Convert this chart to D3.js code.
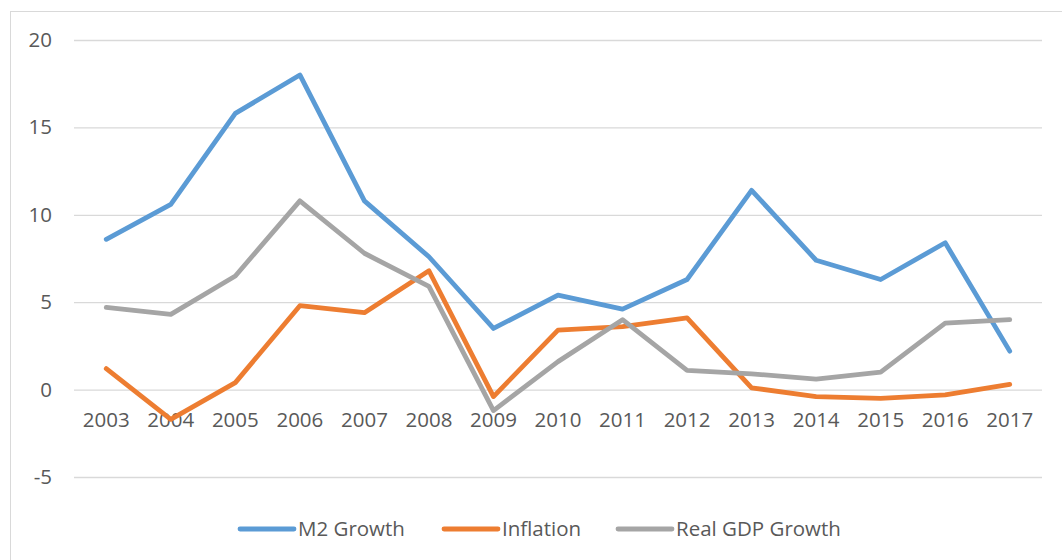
<!DOCTYPE html>
<html>
<head>
<meta charset="utf-8">
<script src="https://cdn.jsdelivr.net/npm/d3@7"></script>
<style>
  html, body { margin: 0; padding: 0; background: #fff; }
  svg { display: block; font-family: "Open Sans", sans-serif; }
</style>
</head>
<body>
<svg id="chart" width="1062" height="560"></svg>
<script>
// Annual figures, 2003–2017 (percent)
const years = ["2003","2004","2005","2006","2007","2008","2009","2010","2011","2012","2013","2014","2015","2016","2017"];
const m2Growth  = [8.6, 10.6, 15.8, 18.0, 10.8, 7.6, 3.5, 5.4, 4.6, 6.3, 11.4, 7.4, 6.3, 8.4, 2.2];
const inflation = [1.2, -1.7, 0.4, 4.8, 4.4, 6.8, -0.4, 3.4, 3.6, 4.1, 0.1, -0.4, -0.5, -0.3, 0.3];
const realGdp   = [4.7, 4.3, 6.5, 10.8, 7.8, 5.9, -1.2, 1.6, 4.0, 1.1, 0.9, 0.6, 1.0, 3.8, 4.0];
const yTicks = [-5, 0, 5, 10, 15, 20];

const seriesNames  = ["M2 Growth", "Inflation", "Real GDP Growth"];
const seriesValues = [m2Growth, inflation, realGdp];
const seriesColors = ["#5B9BD5", "#ED7D31", "#A5A5A5"];

const svg = d3.select("#chart");
const textColor = "#595959";
const gridColor = "#D9D9D9";
const fontSize = 20.5;

// Chart area frame
svg.append("rect")
  .attr("x", 10.5).attr("y", 11.5)
  .attr("width", 1062).attr("height", 560)
  .attr("fill", "none").attr("stroke", gridColor).attr("stroke-width", 1);

const plot = { left: 74, right: 1042, top: 40, bottom: 477 };

const x = d3.scaleBand().domain(years).range([plot.left, plot.right]);
const y = d3.scaleLinear().domain([-5, 20]).range([plot.bottom, plot.top]);

// Horizontal gridlines and value labels (plain hyphen for negatives)
const yAxis = svg.append("g")
  .attr("transform", `translate(${plot.left},0)`)
  .call(d3.axisLeft(y).tickValues(yTicks).tickFormat(d => String(d))
    .tickSize(-(plot.right - plot.left)).tickPadding(22));
yAxis.select(".domain").remove();
yAxis.selectAll(".tick line").attr("stroke", gridColor).attr("stroke-width", 1.3);
yAxis.selectAll(".tick text")
  .attr("fill", textColor).attr("font-size", fontSize)
  .style("font-family", "'Open Sans', sans-serif");

// Category labels sit just under the zero line
const xAxis = svg.append("g")
  .attr("transform", `translate(0,${y(0)})`)
  .call(d3.axisBottom(x).tickSize(0).tickPadding(23));
xAxis.select(".domain").remove();
xAxis.selectAll(".tick text")
  .attr("fill", textColor).attr("font-size", fontSize)
  .style("font-family", "'Open Sans', sans-serif");

// Series lines
const line = d3.line()
  .x((d, i) => x(years[i]) + x.bandwidth() / 2)
  .y(d => y(d));

seriesValues.forEach((vals, k) => {
  svg.append("path")
    .datum(vals)
    .attr("d", line)
    .attr("fill", "none")
    .attr("stroke", seriesColors[k])
    .attr("stroke-width", 4.8)
    .attr("stroke-linejoin", "round")
    .attr("stroke-linecap", "round");
});

// Legend
const legendItems = [
  { x: 240, name: seriesNames[0], color: seriesColors[0] },
  { x: 444, name: seriesNames[1], color: seriesColors[1] },
  { x: 618, name: seriesNames[2], color: seriesColors[2] }
];
const legendY = 529;
const legend = svg.append("g");
legendItems.forEach(item => {
  legend.append("line")
    .attr("x1", item.x).attr("x2", item.x + 54)
    .attr("y1", legendY).attr("y2", legendY)
    .attr("stroke", item.color).attr("stroke-width", 4.8)
    .attr("stroke-linecap", "round");
  legend.append("text")
    .attr("x", item.x + 58).attr("y", legendY)
    .attr("dy", "0.35em")
    .attr("fill", textColor).attr("font-size", fontSize)
    .text(item.name);
});
</script>
</body>
</html>
